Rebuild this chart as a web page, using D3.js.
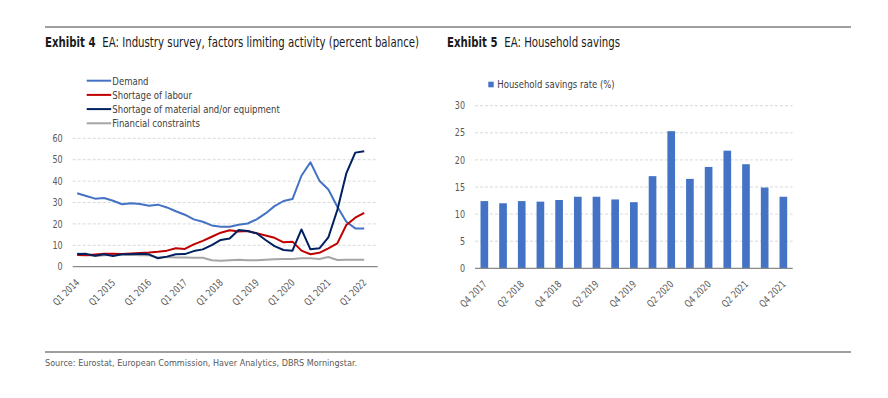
<!DOCTYPE html>
<html>
<head>
<meta charset="utf-8">
<script src="https://cdn.jsdelivr.net/npm/d3@7"></script>
<style>
  body { margin: 0; background: #fff; }
  svg { display: block; font-family: "Liberation Sans Narrow", "DejaVu Sans Condensed", "DejaVu Sans", sans-serif; font-stretch: condensed; }
</style>
</head>
<body>
<svg id="chart" width="888" height="398"></svg>
<script>
// Exhibit 4: quarterly survey, Q1 2014 .. Q2 2022 (last slot empty)
const surveyQuarters = [
  'Q1 2014','Q2 2014','Q3 2014','Q4 2014','Q1 2015','Q2 2015','Q3 2015','Q4 2015',
  'Q1 2016','Q2 2016','Q3 2016','Q4 2016','Q1 2017','Q2 2017','Q3 2017','Q4 2017',
  'Q1 2018','Q2 2018','Q3 2018','Q4 2018','Q1 2019','Q2 2019','Q3 2019','Q4 2019',
  'Q1 2020','Q2 2020','Q3 2020','Q4 2020','Q1 2021','Q2 2021','Q3 2021','Q4 2021',
  'Q1 2022','Q2 2022'
];
const surveyTicks = ['Q1 2014','Q1 2015','Q1 2016','Q1 2017','Q1 2018','Q1 2019','Q1 2020','Q1 2021','Q1 2022'];
const surveyYTicks = [0, 10, 20, 30, 40, 50, 60];

const demand = [34.3, 33.0, 31.8, 32.1, 30.8, 29.2, 29.6, 29.3, 28.5, 29.0, 27.7, 25.9, 24.3,
  22.1, 21.0, 19.3, 18.7, 18.7, 19.6, 20.2, 22.1, 24.9, 28.3, 30.7, 31.6, 42.5, 48.8, 40.2,
  36.1, 28.0, 21.0, 17.9, 17.8];
const labour = [5.5, 5.3, 5.7, 6.0, 6.0, 5.9, 6.2, 6.4, 6.6, 7.0, 7.5, 8.6, 8.3,
  10.4, 12.1, 14.0, 15.9, 17.0, 16.4, 16.7, 15.6, 14.6, 13.5, 11.4, 11.7, 7.5, 5.8, 6.5,
  8.6, 10.9, 19.5, 22.9, 25.2];
const material = [5.9, 6.0, 5.1, 5.8, 5.0, 5.8, 5.8, 6.1, 5.8, 3.9, 4.7, 5.8, 5.9,
  7.3, 8.1, 10.1, 12.5, 13.2, 17.1, 16.7, 15.6, 12.5, 9.6, 7.8, 7.5, 17.4, 8.1, 8.6,
  13.7, 26.5, 43.6, 53.3, 54.0];
const financial = [6.2, 5.5, 5.0, 5.3, 5.5, 5.6, 5.6, 5.3, 5.3, 4.3, 4.5, 4.3, 4.3,
  4.2, 4.2, 3.0, 2.8, 3.0, 3.2, 3.0, 3.0, 3.3, 3.5, 3.6, 3.6, 3.9, 3.9, 3.6,
  4.5, 3.1, 3.2, 3.2, 3.2];

const seriesNames = ['Demand', 'Shortage of labour', 'Shortage of material and/or equipment', 'Financial constraints'];
const seriesColors = ['#4472c4', '#c00000', '#002060', '#a5a5a5'];

// Exhibit 5: household savings rate
const savingsQuarters = [
  'Q4 2017','Q1 2018','Q2 2018','Q3 2018','Q4 2018','Q1 2019','Q2 2019','Q3 2019',
  'Q4 2019','Q1 2020','Q2 2020','Q3 2020','Q4 2020','Q1 2021','Q2 2021','Q3 2021','Q4 2021'
];
const savingsTicks = ['Q4 2017','Q2 2018','Q4 2018','Q2 2019','Q4 2019','Q2 2020','Q4 2020','Q2 2021','Q4 2021'];
const savingsYTicks = [0, 5, 10, 15, 20, 25, 30];
const savingsRate = [12.4, 12.0, 12.4, 12.3, 12.6, 13.2, 13.2, 12.7, 12.2, 17.0, 25.3, 16.5,
  18.7, 21.7, 19.2, 14.9, 13.2];

const svg = d3.select('#chart');
const tickColor = '#595959';
const gridColor = '#d9d9d9';
const axisColor = '#898989';
const narrow = 0.85; // horizontal squeeze to mimic the condensed face

// places a text at (x, y), optionally rotated, squeezed horizontally
function place(sel, x, y, rot, k) {
  return sel.attr('x', 0).attr('y', 0)
    .attr('transform', (d, i) => {
      const px = typeof x === 'function' ? x(d, i) : x;
      const py = typeof y === 'function' ? y(d, i) : y;
      return `translate(${px},${py})` + (rot ? ` rotate(${rot})` : '') + ` scale(${k || narrow},1)`;
    });
}

// page frame: rules, titles, source
svg.append('rect').attr('width', 888).attr('height', 398).attr('fill', '#fff');
svg.append('line').attr('x1', 45).attr('x2', 851).attr('y1', 27).attr('y2', 27)
  .attr('stroke', '#7f7f7f').attr('stroke-width', 1.5);
svg.append('line').attr('x1', 45).attr('x2', 851).attr('y1', 352).attr('y2', 352)
  .attr('stroke', '#7f7f7f').attr('stroke-width', 1.5);

function title(x, num, txt, k) {
  const t = place(svg.append('text'), x, 47, 0, k).attr('font-size', 13.5).attr('fill', '#1a1a1a');
  t.append('tspan').attr('font-weight', 'bold').text(num);
  t.append('tspan').attr('dx', 8).text(txt);
}
title(45, 'Exhibit 4', 'EA: Industry survey, factors limiting activity (percent balance)', 0.84);
title(447, 'Exhibit 5', 'EA: Household savings', 0.84);

place(svg.append('text'), 45, 366, 0, 0.95).attr('font-size', 9.5).attr('fill', tickColor)
  .text('Source: Eurostat, European Commission, Haver Analytics, DBRS Morningstar.');

function yLabels(g, scale, ticks, x0) {
  place(g.append('g').selectAll('text').data(ticks).enter().append('text'),
    x0 - 10, d => scale(d) + 3.6, 0)
    .attr('text-anchor', 'end').attr('font-size', 10.5).attr('fill', tickColor)
    .text(d => d);
}

function grid(g, scale, ticks, x0, x1) {
  g.append('g').selectAll('line').data(ticks.filter(d => d > 0)).enter().append('line')
    .attr('x1', x0).attr('x2', x1)
    .attr('y1', d => scale(d)).attr('y2', d => scale(d))
    .attr('stroke', gridColor).attr('stroke-dasharray', '3,2');
}

// ---------- Exhibit 4: line chart ----------
const left = { x0: 72.7, x1: 377.7, yTop: 138.3, yBottom: 266.7 };
const xL = d3.scaleBand().domain(surveyQuarters).range([left.x0, left.x1]);
const yL = d3.scaleLinear().domain([0, 60]).range([left.yBottom, left.yTop]);
const gL = svg.append('g');

grid(gL, yL, surveyYTicks, left.x0, left.x1);
yLabels(gL, yL, surveyYTicks, left.x0);

const lineData = [demand, labour, material, financial];
const line = d3.line()
  .x((d, i) => xL(surveyQuarters[i]) + xL.bandwidth() / 2)
  .y(d => yL(d));
[3, 0, 1, 2].forEach(k => {
  gL.append('path').datum(lineData[k]).attr('d', line)
    .attr('fill', 'none').attr('stroke', seriesColors[k]).attr('stroke-width', 2)
    .attr('stroke-linejoin', 'round');
});

gL.append('line').attr('x1', left.x0).attr('x2', left.x1)
  .attr('y1', yL(0)).attr('y2', yL(0)).attr('stroke', axisColor).attr('stroke-width', 1.3);

place(gL.append('g').selectAll('text').data(surveyTicks).enter().append('text'),
  d => xL(d) + xL.bandwidth() / 2 + 3, yL(0) + 16.5, -45)
  .attr('text-anchor', 'end').attr('font-size', 10).attr('fill', tickColor)
  .text(d => d);

const legL = gL.append('g').selectAll('g').data(seriesNames).enter().append('g')
  .attr('transform', (d, i) => `translate(86.7,${80.7 + i * 14.2})`);
legL.append('line').attr('x1', 0).attr('x2', 24.5)
  .attr('stroke', (d, i) => seriesColors[i]).attr('stroke-width', 2);
place(legL.append('text'), 25.6, 3.8, 0, 0.865).attr('font-size', 11).attr('fill', '#404040')
  .text(d => d);

// ---------- Exhibit 5: bar chart ----------
const right = { x0: 475, x1: 792.7, yTop: 105.7, yBottom: 268.3 };
const xR = d3.scaleBand().domain(savingsQuarters).range([right.x0, right.x1]).paddingInner(0.59).paddingOuter(0.295);
const yR = d3.scaleLinear().domain([0, 30]).range([right.yBottom, right.yTop]);
const gR = svg.append('g');

grid(gR, yR, savingsYTicks, right.x0, right.x1);
yLabels(gR, yR, savingsYTicks, right.x0);

gR.append('g').selectAll('rect').data(savingsRate).enter().append('rect')
  .attr('x', (d, i) => xR(savingsQuarters[i]))
  .attr('width', xR.bandwidth())
  .attr('y', d => yR(d))
  .attr('height', d => yR(0) - yR(d))
  .attr('fill', '#4472c4');

gR.append('line').attr('x1', right.x0).attr('x2', right.x1)
  .attr('y1', yR(0)).attr('y2', yR(0)).attr('stroke', axisColor).attr('stroke-width', 1.3);

place(gR.append('g').selectAll('text').data(savingsTicks).enter().append('text'),
  d => xR(d) + xR.bandwidth() / 2 + 3, yR(0) + 16.5, -45)
  .attr('text-anchor', 'end').attr('font-size', 10).attr('fill', tickColor)
  .text(d => d);

gR.append('rect').attr('x', 488.3).attr('y', 81.7).attr('width', 5.4).attr('height', 5.6).attr('fill', '#4472c4');
place(gR.append('text'), 497.3, 88.3, 0, 0.86).attr('font-size', 11).attr('fill', '#404040')
  .text('Household savings rate (%)');
</script>
</body>
</html>
